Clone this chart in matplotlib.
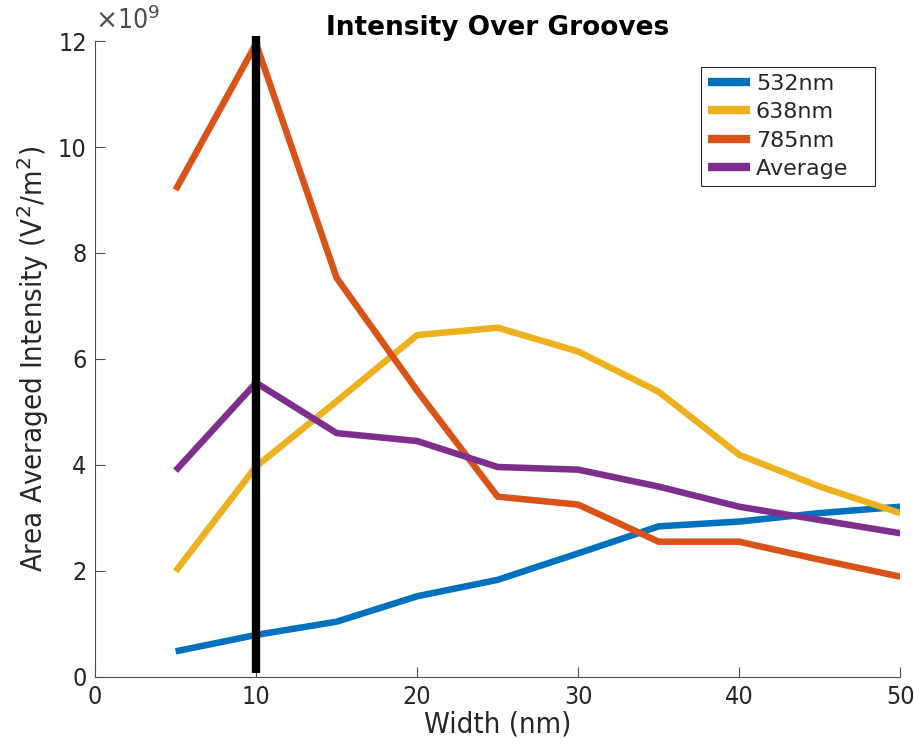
import matplotlib.pyplot as plt
from matplotlib.ticker import FuncFormatter

# groove width (nm) and area-averaged intensity, in units of 1e9 V^2/m^2
width = [5, 10, 15, 20, 25, 30, 35, 40, 45, 50]
i532 = [0.48, 0.79, 1.04, 1.52, 1.83, 2.33, 2.84, 2.93, 3.09, 3.21]
i638 = [1.99, 3.97, 5.20, 6.45, 6.59, 6.14, 5.38, 4.19, 3.59, 3.09]
i785 = [9.19, 11.95, 7.53, 5.40, 3.40, 3.25, 2.55, 2.55, 2.21, 1.89]
i_avg = [3.89, 5.55, 4.60, 4.45, 3.96, 3.91, 3.59, 3.21, 2.96, 2.71]
marker_x = 10

SCALE = 1e9
AX_COLOR = "#262626"
TICK_COLOR = "#4d4d4d"

plt.rcParams.update({
    "font.family": "DejaVu Sans",
    "text.color": AX_COLOR,
    "axes.edgecolor": TICK_COLOR,
    "xtick.color": TICK_COLOR,
    "ytick.color": TICK_COLOR,
    "xtick.labelcolor": AX_COLOR,
    "ytick.labelcolor": AX_COLOR,
})

fig = plt.figure(figsize=(9.14, 7.47), dpi=100)
ax = fig.add_axes([0.104, 0.094, 0.881, 0.851])

series = [
    (i532, "#0072BD", "532nm"),
    (i638, "#EDB120", "638nm"),
    (i785, "#D95319", "785nm"),
    (i_avg, "#7E2F8E", "Average   "),
]
for vals, color, label in series:
    ax.plot(width, [v * SCALE for v in vals], color=color, lw=4.7,
            label=label, solid_capstyle="butt")

ax.plot([marker_x, marker_x], [0.07 * SCALE, 12.1 * SCALE], color="black",
        lw=6, solid_capstyle="butt", clip_on=False)

ax.set_xlim(0, 50)
ax.set_ylim(0, 12 * SCALE)
ax.set_xticks(range(0, 51, 10))
ax.set_yticks([v * SCALE for v in range(0, 13, 2)])
ax.yaxis.set_major_formatter(FuncFormatter(lambda v, _: f"{v / SCALE:g}"))

ax.text(0.0, 1.01, r"$\times$10$^{9}$", transform=ax.transAxes,
        fontsize=19, color=TICK_COLOR, ha="left", va="bottom",
        fontstretch="condensed")

for side in ("top", "right"):
    ax.spines[side].set_visible(False)
ax.tick_params(direction="in", length=7, width=0.8, labelsize=18, pad=6)
for lab in ax.get_xticklabels() + ax.get_yticklabels():
    lab.set_fontstretch("condensed")

ax.set_xlabel("Width (nm)", fontsize=21, labelpad=1, color=AX_COLOR,
              fontstretch="condensed")
ax.set_ylabel("Area Averaged Intensity (V$^2$/m$^2$)", fontsize=21,
              labelpad=5, color=AX_COLOR, fontstretch="condensed")
ax.set_title("Intensity Over Grooves", fontsize=19, fontweight="bold",
             color="black", pad=4)

leg = ax.legend(loc="upper right", bbox_to_anchor=(0.969, 0.959), fontsize=16,
                fancybox=False, framealpha=1, edgecolor="#262626",
                handlelength=1.9, handletextpad=0.25, borderpad=0.3,
                labelspacing=0.38, borderaxespad=0.0)
leg.get_frame().set_linewidth(0.8)
for line in leg.get_lines():
    line.set_linewidth(6)

fig.savefig("out.png", dpi=100)
